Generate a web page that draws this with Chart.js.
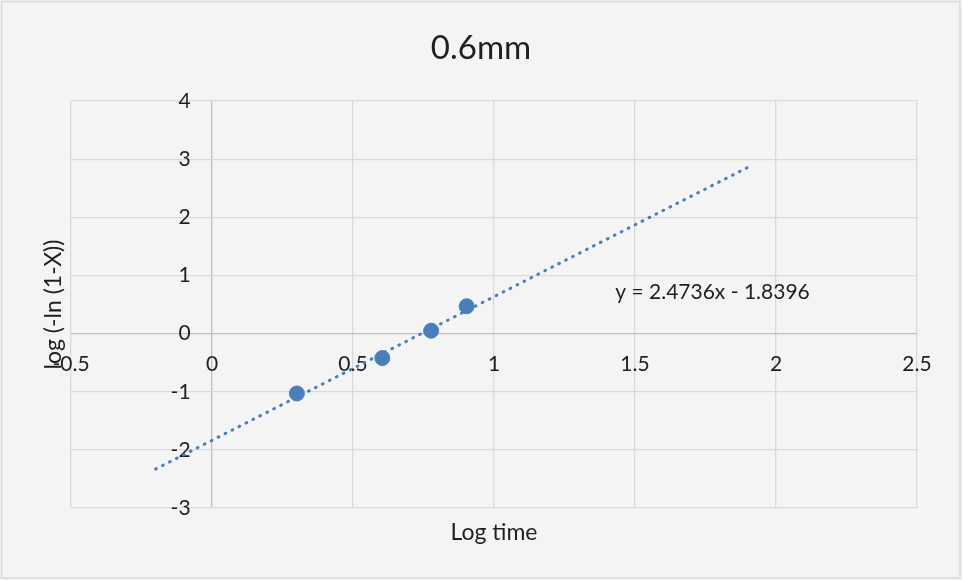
<!DOCTYPE html>
<html>
<head>
<meta charset="utf-8">
<script src="https://cdn.jsdelivr.net/npm/chart.js@4.4.1/dist/chart.umd.min.js"></script>
<style>
html, body { margin: 0; padding: 0; background: #fff; }
</style>
</head>
<body>
<canvas id="myChart" width="962" height="580"></canvas>
<script>
// values
const logTime = [0.301, 0.604, 0.777, 0.903];
const logLn = [-1.03, -0.42, 0.05, 0.47];
const trendX = [-0.2, 1.9];
const trendY = [-2.33, 2.86];
const xTicks = [-0.5, 0, 0.5, 1, 1.5, 2, 2.5];
const yTicks = [-3, -2, -1, 0, 1, 2, 3, 4];
const equation = 'y = 2.4736x - 1.8396';
const equationAt = [1.43, 0.72];

const blue = '#4a7ebb';
const gridColor = '#d9d9d9';
const axisColor = '#bfbfbf';
const textColor = '#1f1f1f';
const fontName = 'Lato';

const ctx = document.getElementById('myChart');

const background = {
    id: 'background',
    beforeDraw(chart) {
        const c = chart.ctx;
        c.save();
        c.fillStyle = '#f4f4f4';
        c.fillRect(0, 0, chart.width, chart.height);
        c.strokeStyle = gridColor;
        c.lineWidth = 1.5;
        c.strokeRect(1.5, 1.5, chart.width - 3.5, chart.height - 3.5);
        c.restore();
    }
};

const equationLabel = {
    id: 'equationLabel',
    afterDatasetsDraw(chart) {
        const c = chart.ctx;
        c.save();
        c.font = '21px ' + fontName;
        c.fillStyle = textColor;
        c.textAlign = 'left';
        c.textBaseline = 'middle';
        c.fillText(equation, chart.scales.x.getPixelForValue(equationAt[0]), chart.scales.y.getPixelForValue(equationAt[1]));
        c.restore();
    }
};

const setTicks = (list) => (scale) => {
    scale.ticks = list.map((v) => ({ value: v }));
};

// the line at value 0 is the axis, a bit darker than the grid
const gridAt0 = (c) => (c.tick && c.tick.value === 0 ? axisColor : gridColor);

new Chart(ctx, {
    type: 'scatter',
    data: {
        datasets: [{
            label: 'trend',
            type: 'line',
            data: trendX.map((x, i) => ({ x: x, y: trendY[i] })),
            borderColor: blue,
            borderWidth: 3,
            borderDash: [0.8, 7],
            borderCapStyle: 'round',
            pointRadius: 0,
            fill: false,
            order: 1
        }, {
            label: 'points',
            data: logTime.map((x, i) => ({ x: x, y: logLn[i] })),
            backgroundColor: blue,
            borderColor: blue,
            pointRadius: 7.5,
            pointHoverRadius: 7.5,
            order: 2
        }]
    },
    options: {
        responsive: false,
        animation: false,
        layout: { padding: 0 },
        plugins: {
            legend: { display: false },
            tooltip: { enabled: false },
            title: {
                display: true,
                text: '0.6mm',
                color: textColor,
                font: { family: fontName, size: 33, weight: 'normal' },
                padding: { top: 29, bottom: 32.5 }
            }
        },
        scales: {
            x: {
                type: 'linear',
                position: 'bottom',
                min: -0.5,
                max: 2.5,
                afterBuildTicks: setTicks(xTicks),
                ticks: { display: false },
                grid: { color: gridAt0, lineWidth: 1.3, drawTicks: false },
                border: { display: false },
                title: {
                    display: true,
                    text: 'Log time',
                    color: textColor,
                    font: { family: fontName, size: 23 },
                    padding: { top: 0, bottom: 34 }
                },
                afterFit: (s) => { s.height = 72; }
            },
            y: {
                type: 'linear',
                position: 'left',
                min: -3,
                max: 4,
                afterBuildTicks: setTicks(yTicks),
                ticks: { display: false },
                grid: { color: gridAt0, lineWidth: 1.3, drawTicks: false },
                border: { display: false },
                title: {
                    display: true,
                    text: 'log (-ln (1-X))',
                    color: textColor,
                    font: { family: fontName, size: 23 },
                    padding: { top: 40, bottom: 0 }
                },
                afterFit: (s) => { s.width = 71; }
            },
            yr: {
                axis: 'y',
                position: 'right',
                display: true,
                ticks: { display: false },
                grid: { display: false, drawTicks: false },
                border: { display: false },
                afterFit: (s) => { s.width = 45; }
            },
            x0: {
                axis: 'x',
                type: 'linear',
                position: { y: 0 },
                min: -0.5,
                max: 2.5,
                afterBuildTicks: setTicks(xTicks),
                grid: { display: false, drawTicks: false },
                border: { display: false },
                ticks: {
                    padding: 18.5,
                    color: textColor,
                    font: { family: fontName, size: 21 },
                    callback: (v) => String(v)
                }
            },
            y0: {
                axis: 'y',
                type: 'linear',
                position: { x: -0.076 },
                min: -3,
                max: 4,
                afterBuildTicks: setTicks(yTicks),
                grid: { display: false, drawTicks: false },
                border: { display: false },
                ticks: {
                    color: textColor,
                    font: { family: fontName, size: 21 },
                    callback: (v) => String(v)
                }
            }
        }
    },
    plugins: [background, equationLabel]
});
</script>
</body>
</html>
